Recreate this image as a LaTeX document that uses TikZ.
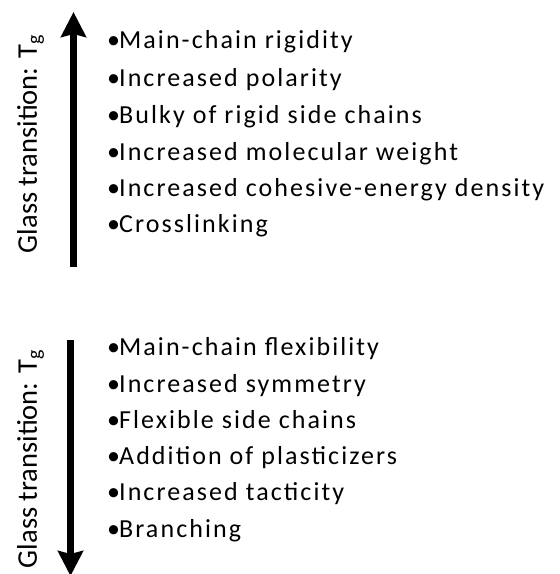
\documentclass[tikz,border=0pt]{standalone}
\usepackage{fontspec}
\setmainfont{Carlito}
\newfontfamily\spacedfont[LetterSpace=8]{Carlito}
\usetikzlibrary{arrows.meta, positioning}

\newcommand{\bul}{•\kern-1pt}

\tikzset{
    item/.style={anchor=base west, inner sep=0pt, font=\spacedfont\fontsize{26}{30}\selectfont},
    axislabel/.style={rotate=90, anchor=base, inner sep=0pt, font=\fontsize{28.5}{32}\selectfont},
    tgarrow/.style={line width=6.5pt, -{Stealth[length=25pt, width=25pt, inset=3pt]}},
}

\begin{document}
\begin{tikzpicture}[x=1pt, y=-1pt]
        \useasboundingbox (0,0) rectangle (560,574);

        % raising Tg
        \coordinate (upbot) at (73.5,267);
        \coordinate (uptop) at (73.5,12);
        \draw[tgarrow] (upbot) -- (uptop);
        \node[axislabel] (uplabel) at (37,144) {Glass transition: T\textsubscript{g}};

        \node[item] (up1) at (107,48) {\bul Main-chain rigidity};
        \node[item] (up2) at (107,86) {\bul Increased polarity};
        \node[item] (up3) at (107,123) {\bul Bulky of rigid side chains};
        \node[item] (up4) at (107,160) {\bul Increased molecular weight};
        \node[item] (up5) at (107,196) {\bul Increased cohesive-energy density};
        \node[item] (up6) at (107,232) {\bul Crosslinking};

        % lowering Tg
        \coordinate (dntop) at (70.5,340);
        \coordinate (dnbot) at (70.5,576);
        \draw[tgarrow] (dntop) -- (dnbot);
        \node[axislabel] (dnlabel) at (37,459) {Glass transition: T\textsubscript{g}};

        \node[item] (dn1) at (107,355) {\bul Main-chain flexibility};
        \node[item] (dn2) at (107,392) {\bul Increased symmetry};
        \node[item] (dn3) at (107,428) {\bul Flexible side chains};
        \node[item] (dn4) at (107,464) {\bul Addition of plasticizers};
        \node[item] (dn5) at (107,500) {\bul Increased tacticity};
        \node[item] (dn6) at (107,537) {\bul Branching};
\end{tikzpicture}
\end{document}
